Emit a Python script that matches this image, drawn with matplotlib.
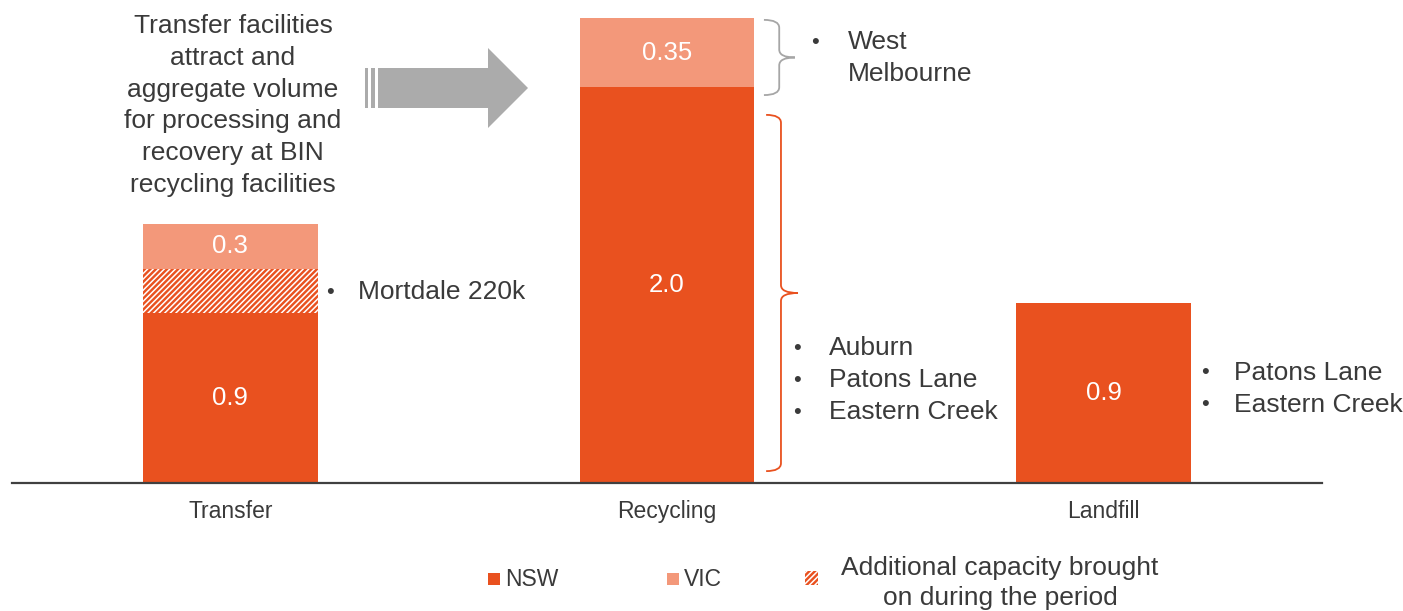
import matplotlib.pyplot as plt
from matplotlib.patches import Polygon, Rectangle, PathPatch
from matplotlib.path import Path

plt.rcParams['font.family'] = ['Liberation Sans', 'DejaVu Sans']
plt.rcParams['hatch.linewidth'] = 1.1

# data
categories = ['Transfer', 'Recycling', 'Landfill']
nsw = [0.86, 2.0, 0.91]
added = [0.22, 0.0, 0.0]        # additional capacity (hatched, Mortdale 220k)
vic = [0.23, 0.35, 0.0]
nsw_labels = ['0.9', '2.0', '0.9']
vic_labels = ['0.3', '0.35', '']

NSW_C = '#E9511F'
VIC_C = '#F3987A'
TXT = '#3A3A3A'

fig = plt.figure(figsize=(14.03, 6.11), dpi=100)
ax = fig.add_axes([12 / 1403, 128 / 611, 1310 / 1403, 475 / 611])
x = list(range(len(categories)))
w = 0.40

ax.bar(x, nsw, w, color=NSW_C, linewidth=0)
ax.bar(x, added, w, bottom=nsw, color=NSW_C, edgecolor='white', hatch='//////', linewidth=0)
base2 = [a + b for a, b in zip(nsw, added)]
ax.bar(x, vic, w, bottom=base2, color=VIC_C, linewidth=0)

for i in x:
    ax.text(i, nsw[i] / 2, nsw_labels[i], ha='center', va='center', color='white', fontsize=18.5)
    if vic[i] > 0:
        ax.text(i, base2[i] + vic[i] / 2, vic_labels[i], ha='center', va='center',
                color='white', fontsize=18.5)

ax.set_xlim(-0.5, 2.5)
ax.set_ylim(0, 2.4)
ax.set_xticks(x)
ax.set_xticklabels(categories, fontsize=16.5, color=TXT)
ax.tick_params(axis='x', length=0, pad=12)
ax.set_yticks([])
for s in ['top', 'right', 'left']:
    ax.spines[s].set_visible(False)
ax.spines['bottom'].set_color('#404040')
ax.spines['bottom'].set_linewidth(1.6)


def brace(ax, x0, xs, xt, y0, y1, color):
    ym = (y0 + y1) / 2
    r = 0.04
    verts = [(x0, y1), (xs, y1), (xs, y1 - r), (xs, ym + r), (xs, ym), (xt, ym),
             (xt, ym), (xs, ym), (xs, ym - r), (xs, y0 + r), (xs, y0), (x0, y0)]
    codes = [Path.MOVETO, Path.CURVE3, Path.CURVE3, Path.LINETO, Path.CURVE3, Path.CURVE3,
             Path.MOVETO, Path.CURVE3, Path.CURVE3, Path.LINETO, Path.CURVE3, Path.CURVE3]
    ax.add_patch(PathPatch(Path(verts, codes), fill=False, edgecolor=color, lw=1.3))


edge = 1 + w / 2
brace(ax, edge + 0.022, edge + 0.057, edge + 0.093, 1.96, 2.34, '#A6A6A6')
brace(ax, edge + 0.027, edge + 0.061, edge + 0.100, 0.06, 1.86, NSW_C)

# overlay in pixel coordinates for annotations
ov = fig.add_axes([0, 0, 1, 1])
ov.set_xlim(0, 1403)
ov.set_ylim(611, 0)
ov.axis('off')

ov.text(233, 14, 'Transfer facilities\nattract and\naggregate volume\nfor processing and\n'
        'recovery at BIN\nrecycling facilities', ha='center', va='top', fontsize=19,
        color=TXT, linespacing=1.41)

# block arrow
ov.add_patch(Polygon([(378, 68), (488, 68), (488, 48), (528, 88), (488, 128), (488, 108), (378, 108)],
                     closed=True, color='#ABABAB', lw=0))
ov.add_patch(Rectangle((365, 68), 3, 40, color='#ABABAB', lw=0))
ov.add_patch(Rectangle((371, 68), 4, 40, color='#ABABAB', lw=0))

notes = [
    (330, 358, [(292, 'Mortdale 220k', True)]),
    (815, 848, [(42, 'West', True), (74, 'Melbourne', False)]),
    (797, 829, [(348, 'Auburn', True), (380, 'Patons Lane', True), (412, 'Eastern Creek', True)]),
    (1205, 1234, [(373, 'Patons Lane', True), (405, 'Eastern Creek', True)]),
]
for bx, tx, lines in notes:
    for yy, t, bullet in lines:
        if bullet:
            ov.text(bx, yy, '\u2022', ha='center', va='center', fontsize=16, color=TXT)
        ov.text(tx, yy, t, ha='left', va='center', fontsize=19, color=TXT)

# legend
ov.add_patch(Rectangle((488, 573), 12, 12, color=NSW_C, lw=0))
ov.text(505, 579, 'NSW', ha='left', va='center', fontsize=16.5, color=TXT)
ov.add_patch(Rectangle((667, 573), 12, 12, color=VIC_C, lw=0))
ov.text(684, 579, 'VIC', ha='left', va='center', fontsize=16.5, color=TXT)
ov.add_patch(Rectangle((805, 571), 13, 14, facecolor=NSW_C, edgecolor='white', hatch='//////', lw=0))
ov.text(1000, 583, 'Additional capacity brought\non during the period', ha='center', va='center',
        fontsize=19, color=TXT, linespacing=1.27)

fig.savefig('out.png', dpi=100)
